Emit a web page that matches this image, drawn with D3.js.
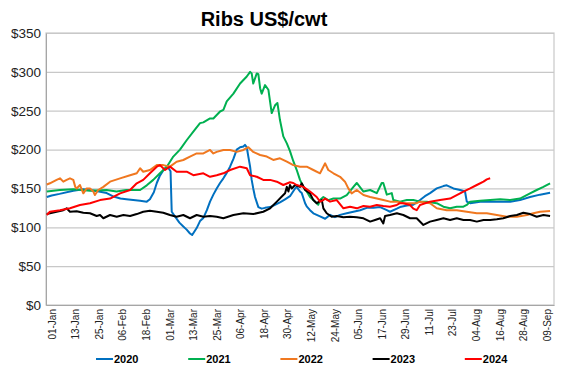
<!DOCTYPE html>
<html><head><meta charset="utf-8">
<script src="https://cdn.jsdelivr.net/npm/d3@7"></script>
<style>body{margin:0;background:#fff} svg{display:block;font-family:Arial,"Liberation Sans",sans-serif}</style>
</head><body><svg id="c" width="562" height="385"></svg>
<script>
const title = "Ribs US$/cwt";
const years = ["2020","2021","2022","2023","2024"];
const colors = ["#0070C0","#00B050","#F07820","#000000","#FF0000"];
const yTicks = [0,50,100,150,200,250,300,350];
const xTickDays = [0,12,24,36,48,60,72,84,96,108,120,132,144,156,168,180,192,204,216,228,240,252];
const xTickLabels = ["01-Jan","13-Jan","25-Jan","06-Feb","18-Feb","01-Mar","13-Mar","25-Mar","06-Apr","18-Apr","30-Apr","12-May","24-May","05-Jun","17-Jun","29-Jun","11-Jul","23-Jul","04-Aug","16-Aug","28-Aug","09-Sep"];

// [day of year (0 = 01-Jan), US$/cwt]
const s2020 = [[-2.5,139],[0,141],[4,143],[11,147],[16,149],[19.5,148],[24,146],[28,144],[31,140],[35,137],[38,136],[41.5,135],[45,134],[48.4,133],[50,136],[52,145],[53.5,157],[55,166],[57,174],[58.6,178],[59.5,176],[60.5,172],[61.1,120],[63,113],[65,106],[67,101],[68.7,97],[70.4,92],[71.5,90],[72.5,94],[73.8,99],[75.5,108],[77.2,112],[79,122],[80.6,133],[82.3,142],[84,150],[85.7,157],[87.4,163],[89.1,170],[90.8,178],[92.5,188],[94.2,200],[95.9,203],[97.6,204],[98.4,206],[99.3,203],[100.1,191],[101,178],[101.8,161],[102.6,150],[103.5,139],[104.4,132],[105.2,126],[106.9,124],[108.6,125],[111.2,126],[113.7,129],[116.2,132],[118.8,136],[121.3,140],[123.9,150],[124.7,152],[126.4,146],[127.3,144],[129,131],[129.8,127],[131.5,122],[133.2,118],[134.9,116],[136.6,114],[139.2,111],[141.7,116],[144.2,113],[146.8,116],[150.2,118],[153.6,120],[157,122],[160.4,125],[163.8,125],[167.2,126],[170.6,122],[172.2,120],[175.7,124],[177.3,126],[180.8,128],[184.1,129],[187.5,135],[190,140],[192.6,144],[196,150],[199.4,153],[201.1,154],[204.5,150],[207.9,148],[210.4,146],[211.3,133],[213,131],[218.1,133],[223.2,133],[228.3,133],[233.4,133],[238.4,135],[243.5,139],[248.6,142],[253.7,144.5]];
const s2021 = [[-2.5,146],[4.2,148],[11,149],[19.5,147],[28,148],[33,146],[38,148],[45,148],[48.4,154],[51.7,161],[55.1,169.5],[58.6,178],[61.9,191],[65.3,200],[68.7,212],[72.1,223],[75.5,234],[77.2,235],[80.6,240],[82.3,240],[85.7,249],[87.4,251],[89.1,262],[92.5,272],[95.9,285],[99.3,294],[101,300],[101.8,298],[102.6,285],[104.4,298],[105.2,297],[106.1,279],[106.9,272],[108.6,283],[110.3,277],[112,247],[113.7,257],[114.9,260],[116.2,238],[117.9,217],[119.7,208],[121.3,198],[123,185],[124.7,174],[126.4,161],[128.1,152],[129.8,146],[131.5,139],[134.1,133],[135.7,129],[136.6,135],[138.3,139],[140.8,135],[143.4,137],[146.8,137],[150.2,141.5],[153.6,152],[155.3,157],[158.7,146],[162.1,148],[165.5,144],[168,157],[168.8,157],[170.6,142],[173.1,144],[173.9,135],[177.3,133],[180.8,135],[184.1,135],[187.5,133],[190.9,133],[196,131],[199.4,126.5],[202.8,124.4],[206.2,126.5],[209.6,126.5],[211.3,128.7],[213,133],[218.1,134],[223.2,135],[228.3,136],[233.4,135],[238.4,137],[243.5,143.7],[246.9,148],[250.3,152],[253.7,156.6]];
const s2022 = [[-2.5,155],[-0.9,156.6],[2.5,161],[4.2,163],[5.9,158.7],[7.6,161],[9.3,163],[11,161],[12,152],[12.7,150],[14.4,154.4],[16.1,143.7],[17.8,150],[19.5,150],[21.2,146],[22,141.5],[23.7,148],[26.3,152],[29.7,158.7],[34.8,163],[39.9,167],[43.3,169.5],[45,176],[46.6,171.5],[50,173.7],[53.5,180],[56.8,180],[60.2,178],[63.6,184.4],[67,186.6],[70.4,191],[73.8,195],[77.2,195],[80.6,199.5],[82.3,195],[84,197],[87.4,199.5],[90.8,199.5],[94.2,197],[97.6,199.5],[100.1,203],[102.6,197],[106.1,193],[109.5,191],[112.8,186.6],[116.2,188.8],[119.7,184.4],[123,180],[126.4,178],[129.8,178],[133.2,173.7],[136.6,169.5],[139.2,182.3],[140.8,173.7],[143.4,169.5],[146.8,165],[149.3,158.7],[151,150],[152.7,143.7],[155.3,148],[158.7,141.5],[162.1,139],[165.5,137],[168.8,135],[172.2,133],[175.7,133],[179,131],[182.4,131],[185.8,131],[187.5,133],[192.6,131],[196,124.4],[201.1,122],[206.2,122],[211.3,120],[216.4,118],[221.5,118],[226.6,115.8],[231.7,113.6],[236.8,113.6],[241.9,115.8],[245.2,118],[248.6,120],[253.7,121]];
const s2023 = [[-2.5,117],[-0.9,118],[2.5,120],[5.9,122],[7.6,124.4],[9.3,120],[12.7,120.7],[16.1,118.7],[19.5,118],[22.9,114.5],[24.6,115.8],[26.3,111.6],[29.7,115.8],[33.1,113.6],[36.5,115.8],[39.9,114.5],[43.3,117],[46.6,120],[50,121.3],[53.5,120],[56.8,118.7],[60.2,115.8],[63.6,113.6],[67,115.8],[70.4,111.6],[73.8,115.8],[77.2,113.6],[80.6,114.5],[84,113.6],[87.4,111.6],[92.5,115.8],[97.6,118],[102.6,117],[107.7,120],[111.2,124.4],[114.6,133],[117.9,141.5],[118.8,143.7],[119.7,152],[120.5,146],[121.3,154.4],[122.2,150],[123.9,154.4],[126.4,152],[127.3,156.6],[129,148],[131.5,143.7],[133.2,135],[134.9,131],[137.5,135],[138.3,124.4],[140,118],[142.5,113.6],[145.1,114.5],[148.5,112.9],[151.9,113.6],[155.3,112.9],[158.7,111.6],[162.1,107.3],[164.6,109.4],[167.2,111.6],[168.8,105],[169.7,114.5],[172.2,115.8],[175.7,118],[179,115.8],[182.4,111.6],[185.8,111.6],[189.2,103],[192.6,107.3],[196,109.4],[199.4,111.6],[202.8,109.4],[206.2,111.6],[209.6,109.4],[213,109.4],[216.4,107.3],[219.8,109.4],[223.2,109.4],[226.6,110.3],[229.9,111.6],[233.4,114.5],[236.8,115.8],[240.1,118.7],[243.5,117],[246.9,113.6],[250.3,115.8],[253.7,114.5]];
const s2024 = [[-2.5,115.8],[-0.9,120],[4.2,122],[9.3,124.4],[14.4,128.7],[19.5,131],[24.6,135],[29.7,137],[34.8,143.7],[39.9,148],[43.3,156.6],[46.6,161],[50,169.5],[53.5,178],[55.1,180],[57.7,173.7],[60.2,178],[63.6,171.5],[68.7,171.5],[72.1,167],[77.2,169.5],[80.6,165],[84,167],[87.4,169.5],[90.8,173.7],[95.9,178],[99.3,176],[101,167],[104.4,165],[107.7,161],[111.2,161],[114.6,158.7],[117.9,154.4],[121.3,158],[123,157],[124.7,154.4],[128.1,152],[131.5,146],[134.9,139],[136.6,133],[138.3,135],[139.2,137],[141.7,133],[145.1,135],[148.5,124.4],[151.9,126.5],[155.3,124.4],[158.7,127.4],[162.1,126.5],[165.5,128.7],[168.8,127.4],[172.2,126.5],[175.7,128.7],[177.3,131],[179,131],[182.4,128.7],[184.1,124],[185.8,122],[187.5,128.7],[192.6,133],[197.7,135],[202.8,137],[206.2,141.5],[209.6,146],[213,150],[216.4,154.4],[219.8,158.7],[221.5,161.7],[223.2,163]];
const seriesData = [s2020, s2021, s2022, s2023, s2024];

const svg = d3.select("#c");
const L = 46, R = 554, T = 33, B = 305;
const x = d3.scaleLinear().domain([-2.9, 255.7]).range([L, R]);
const y = d3.scaleLinear().domain([0, 350]).range([B, T]);

svg.append("text").attr("x", 264).attr("y", 26).attr("text-anchor", "middle")
  .attr("font-size", 20).attr("font-weight", "bold").attr("fill", "#000").text(title);

// gridlines
svg.append("g").attr("transform", `translate(${L},0)`)
  .call(d3.axisLeft(y).tickValues(yTicks).tickSize(-(R - L)).tickFormat(""))
  .call(g => g.select(".domain").remove())
  .call(g => g.selectAll("line").attr("stroke", "#C8C8C8").attr("stroke-width", 1.2));

// plot border
svg.append("rect").attr("x", L).attr("y", T).attr("width", R - L).attr("height", B - T)
  .attr("fill", "none").attr("stroke", "#C8C8C8").attr("stroke-width", 1.2);

// y labels
svg.append("g").attr("transform", `translate(${L},0)`)
  .call(d3.axisLeft(y).tickValues(yTicks).tickSize(0).tickPadding(5).tickFormat(d => "$" + d))
  .call(g => g.select(".domain").attr("stroke", "#A6A6A6"))
  .call(g => g.selectAll("text").attr("font-size", 13.5).attr("fill", "#222").attr("font-family", "Arial,'Liberation Sans',sans-serif"));

// x axis
const xa = svg.append("g").attr("transform", `translate(0,${B})`)
  .call(d3.axisBottom(x).tickValues(xTickDays).tickSize(0).tickFormat((d, i) => xTickLabels[i]));
xa.select(".domain").attr("stroke", "#A6A6A6");
xa.selectAll("text").attr("font-size", 10).attr("fill", "#222")
  .attr("font-family", "Arial,'Liberation Sans',sans-serif")
  .attr("text-anchor", "end").attr("transform", "rotate(-90)")
  .attr("x", -4).attr("y", 0).attr("dy", "0.35em");

// lines
const line = d3.line().x(d => x(d[0])).y(d => y(d[1]));
seriesData.forEach((s, i) => {
  svg.append("path").datum(s).attr("d", line).attr("fill", "none")
    .attr("stroke", colors[i]).attr("stroke-width", 2).attr("stroke-linejoin", "round");
});

// legend
const lg = svg.append("g");
years.forEach((yr, i) => {
  const lx = 96 + i * 92.2;
  lg.append("line").attr("x1", lx).attr("x2", lx + 17).attr("y1", 359).attr("y2", 359)
    .attr("stroke", colors[i]).attr("stroke-width", 2);
  lg.append("text").attr("x", lx + 18).attr("y", 363).attr("font-size", 11)
    .attr("font-weight", "bold").attr("fill", "#000").text(yr);
});
</script></body></html>
